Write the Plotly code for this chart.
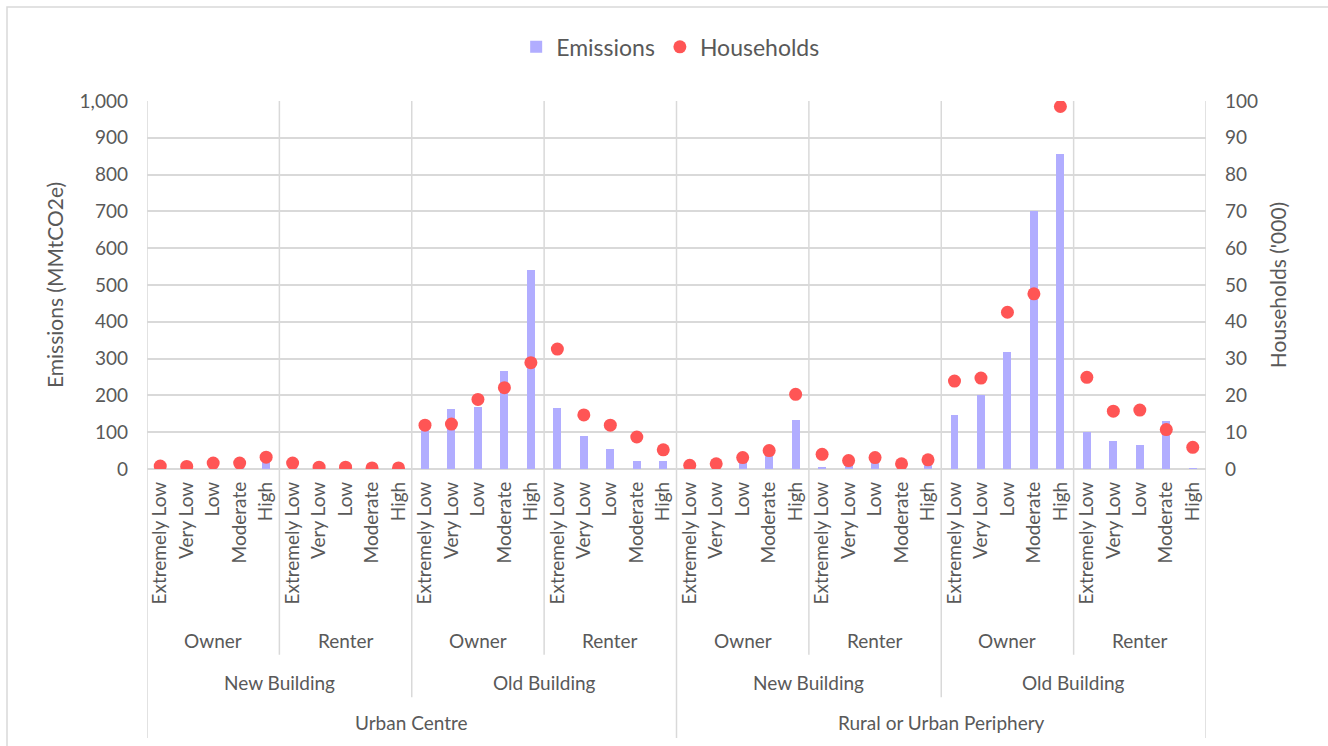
import plotly.graph_objects as go

# Category hierarchy (outermost to innermost)
regions = ["Urban Centre", "Rural or Urban Periphery"]
buildings = ["New Building", "Old Building"]
tenures = ["Owner", "Renter"]
incomes = ["Extremely Low", "Very Low", "Low", "Moderate", "High"]

# Emissions (MMtCO2e), ordered region > building > tenure > income
emissions = [
    3, 3, 5, 6, 18,          # Urban, New, Owner
    3, 1, 1, 1, 1,           # Urban, New, Renter
    112, 163, 169, 267, 541, # Urban, Old, Owner
    166, 91, 55, 23, 23,     # Urban, Old, Renter
    4, 6, 22, 36, 132,       # Rural, New, Owner
    5, 12, 16, 3, 14,        # Rural, New, Renter
    147, 202, 319, 701, 856, # Rural, Old, Owner
    100, 76, 65, 131, 1,     # Rural, Old, Renter
]

# Households ('000), same ordering
households = [
    0.8, 0.7, 1.6, 1.6, 3.2,
    1.6, 0.5, 0.5, 0.3, 0.3,
    11.9, 12.2, 18.9, 22.1, 28.9,
    32.6, 14.7, 11.9, 8.7, 5.2,
    1.0, 1.4, 3.1, 5.0, 20.3,
    4.0, 2.3, 3.1, 1.4, 2.5,
    23.9, 24.7, 42.6, 47.6, 98.5,
    24.9, 15.7, 16.0, 10.7, 5.9,
]

n_inc = len(incomes)
n_ten = len(tenures)
n_bld = len(buildings)
x_pos = list(range(len(emissions)))
tick_text = incomes * (len(emissions) // n_inc)

FONT = "Lato"
GREY = "#595959"
GRID = "#d9d9d9"
BAR_COLOR = "#b1adff"
DOT_COLOR = "#ff5555"

fig = go.Figure()
fig.add_trace(go.Bar(
    x=x_pos, y=emissions, name="Emissions",
    marker=dict(color=BAR_COLOR, line=dict(width=0)),
    width=0.3, yaxis="y",
))
fig.add_trace(go.Scatter(
    x=x_pos, y=households, name="Households", mode="markers",
    marker=dict(color=DOT_COLOR, size=13),
    yaxis="y2",
))

shapes = []
annotations = []

# Separator lines: through the plot and down into the category label levels
levels = {"tenure": -0.505, "building": -0.62, "region": -0.731}
n_cat = len(emissions)
for b in range(0, n_cat + 1, n_inc):
    xb = b - 0.5
    if b % (n_inc * n_ten * n_bld) == 0:
        y_end = levels["region"]
    elif b % (n_inc * n_ten) == 0:
        y_end = levels["building"]
    else:
        y_end = levels["tenure"]
    shapes.append(dict(type="line", xref="x", yref="paper",
                       x0=xb, x1=xb, y0=1, y1=y_end,
                       line=dict(color=GRID, width=1.5), layer="below"))

# Group labels
label_font = dict(family=FONT, size=19, color=GREY)
for r_i, reg in enumerate(regions):
    r_start = r_i * n_inc * n_ten * n_bld
    annotations.append(dict(
        text=reg, xref="x", yref="paper",
        x=r_start + (n_inc * n_ten * n_bld - 1) / 2, y=-0.69,
        showarrow=False, font=label_font, yanchor="middle"))
    for b_i, bld in enumerate(buildings):
        b_start = r_start + b_i * n_inc * n_ten
        annotations.append(dict(
            text=bld, xref="x", yref="paper",
            x=b_start + (n_inc * n_ten - 1) / 2, y=-0.5815,
            showarrow=False, font=label_font, yanchor="middle"))
        for t_i, ten in enumerate(tenures):
            t_start = b_start + t_i * n_inc
            annotations.append(dict(
                text=ten, xref="x", yref="paper",
                x=t_start + (n_inc - 1) / 2, y=-0.4647,
                showarrow=False, font=label_font, yanchor="middle"))

# Outer chart frame
shapes.append(dict(type="rect", xref="paper", yref="paper",
                   x0=-0.1322, x1=1.2, y0=-0.8, y1=1.2554,
                   line=dict(color=GRID, width=1.5), layer="below"))

fig.update_layout(
    width=1328, height=746,
    margin=dict(l=147, r=122, t=101, b=277, autoexpand=False),
    paper_bgcolor="white", plot_bgcolor="white",
    font=dict(family=FONT, size=19, color=GREY),
    bargap=0,
    showlegend=True,
    legend=dict(orientation="h", x=0.4945, xanchor="center",
                y=1.147, yanchor="middle",
                font=dict(family=FONT, size=23, color=GREY),
                itemwidth=30),
    xaxis=dict(
        range=[-0.5, n_cat - 0.5],
        tickmode="array", tickvals=x_pos, ticktext=tick_text,
        tickangle=-90, ticks="", showgrid=False, zeroline=False,
        showline=False, ticklabelstandoff=8,
        tickfont=dict(family=FONT, size=19, color=GREY),
    ),
    yaxis=dict(
        range=[0, 1000], dtick=100, tickformat=",",
        showgrid=True, gridcolor=GRID, gridwidth=1.5,
        zeroline=True, zerolinecolor=GRID, zerolinewidth=1.5,
        showline=False, ticks="", ticklabelstandoff=18,
        tickfont=dict(family=FONT, size=19, color=GREY),
        title=dict(text="Emissions (MMtCO2e)", standoff=10,
                   font=dict(family=FONT, size=21, color=GREY)),
    ),
    yaxis2=dict(
        range=[0, 100], dtick=10, overlaying="y", side="right",
        showgrid=False, zeroline=False, showline=False, ticks="",
        ticklabelstandoff=18,
        tickfont=dict(family=FONT, size=19, color=GREY),
        title=dict(text="Households ('000)", standoff=14,
                   font=dict(family=FONT, size=21, color=GREY)),
    ),
    shapes=shapes,
    annotations=annotations,
)

fig.write_html("out.html")
